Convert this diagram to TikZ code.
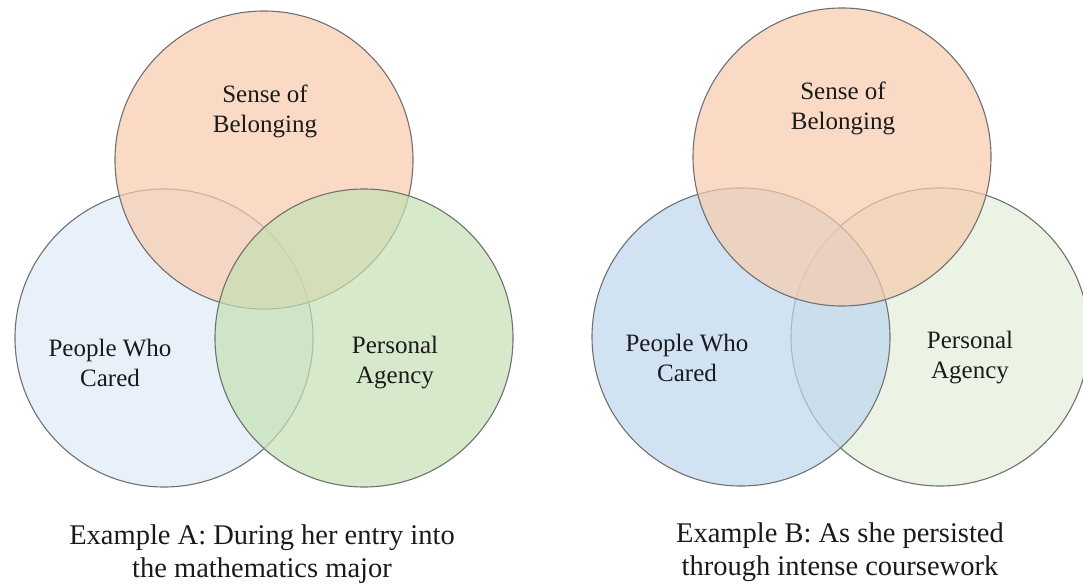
\documentclass[tikz,border=0pt]{standalone}
\usepackage{fontspec}
\setmainfont{Liberation Serif}
\definecolor{orangeF}{HTML}{F8CBAD}
\definecolor{blueLight}{HTML}{DEEBF7}
\definecolor{blueMid}{HTML}{BDD7EE}
\definecolor{greenMid}{HTML}{C5E0B4}
\definecolor{greenLight}{HTML}{E2F0D9}
\definecolor{edge}{HTML}{707070}
\definecolor{txt}{HTML}{1A1A1A}
\tikzset{
  venn/.style={circle, minimum size=298pt, inner sep=0pt, draw=edge, line width=1.1pt, fill opacity=0.7},
  lab/.style={align=center, text=txt, font=\fontsize{25}{30}\selectfont, inner sep=0pt},
  captext/.style={align=center, text=txt, font=\fontsize{28.5}{33}\selectfont, inner sep=0pt}
}
\begin{document}
\begin{tikzpicture}[x=1pt, y=-1pt]
\useasboundingbox (0,0) rectangle (1083,585);
% Example A
\node[venn, fill=blueLight] (aL) at (164,338) {};
\node[venn, fill=orangeF] (aT) at (264,160) {};
\node[venn, fill=greenMid] (aR) at (364,338) {};
\node[lab] (aTt) at (265,111) {Sense of\\Belonging};
\node[lab] (aLt) at (110,363) {People Who\\Cared};
\node[lab] (aRt) at (395,363) {Personal\\Agency};
\node[captext] (capA) at (262,554) {Example A: During her entry into\\the mathematics major};
% Example B
\node[venn, fill=greenLight] (bR) at (940,337) {};
\node[venn, fill=blueMid] (bL) at (741,337) {};
\node[venn, fill=orangeF] (bT) at (842,157) {};
\node[lab] (bTt) at (843,108) {Sense of\\Belonging};
\node[lab] (bLt) at (687,358) {People Who\\Cared};
\node[lab] (bRt) at (970,358) {Personal\\Agency};
\node[captext] (capB) at (840,552) {Example B: As she persisted\\through intense coursework};
\end{tikzpicture}
\end{document}
